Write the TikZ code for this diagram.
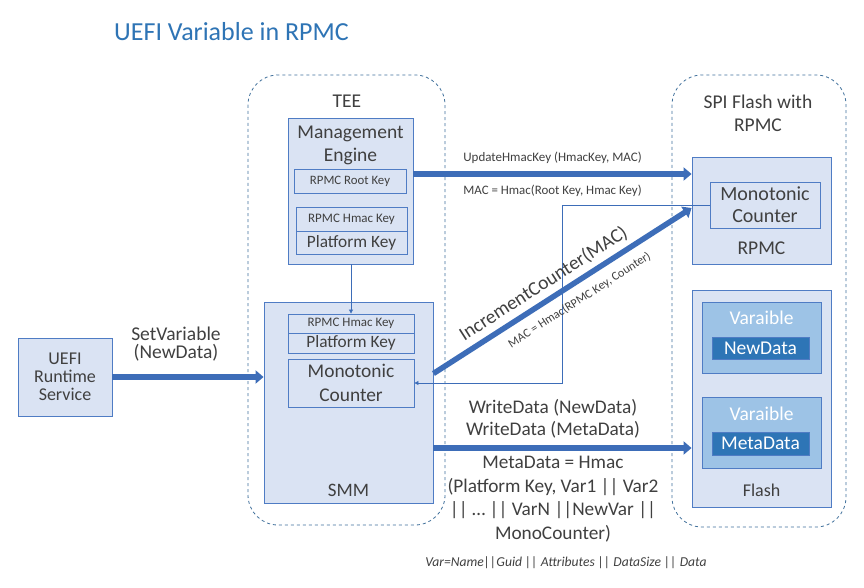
\documentclass[tikz,border=0pt]{standalone}
\usepackage{fontspec}
\setmainfont{Carlito}
\usetikzlibrary{arrows.meta,calc}
\definecolor{boxfill}{HTML}{DAE3F3}
\definecolor{boxline}{HTML}{4F7CC4}
\definecolor{arrowc}{HTML}{3D6DB8}
\definecolor{varfill}{HTML}{9DC3E6}
\definecolor{datafill}{HTML}{2E75B6}
\definecolor{txt}{HTML}{404040}
\definecolor{titlec}{HTML}{2E74B5}
\definecolor{dashc}{HTML}{41719C}
\newcommand{\fsl}[2]{\fontsize{#1}{#2}\selectfont}
\tikzset{
  x=1pt,y=-1pt,
  every node/.style={text=txt,inner sep=0pt},
  box/.style={draw=boxline,fill=boxfill,line width=0.9pt,minimum width=#1},
  databox/.style={draw=boxline,fill=datafill,line width=0.9pt,text=white},
  varbox/.style={draw=boxline,fill=varfill,line width=0.9pt},
  region/.style={draw=dashc,dashed,line width=0.8pt,rounded corners=30pt},
  bigarrow/.style={draw=arrowc,line width=5.5pt,-{Triangle[length=8pt,width=13pt]}},
  thinarrow/.style={draw=arrowc,line width=0.8pt,-{Triangle[length=4pt,width=4pt]}},
  lbl/.style={align=center,text=txt},
}
\begin{document}
\begin{tikzpicture}
\useasboundingbox[fill=white] (0,0) rectangle (864,588);
% title
\node[anchor=west,text=titlec,font={\fsl{26}{30}}] (title) at (114,32) {UEFI Variable in RPMC};
% regions
\draw[region] (248,75) rectangle (445,525);
\draw[region] (672,75) rectangle (846,527);
\node[lbl,font={\fsl{19.5}{23}}] (tee) at (347,101) {TEE};
\node[lbl,font={\fsl{19.5}{23}}] (spi) at (758,113) {SPI Flash with\\RPMC};
% Management engine
\node[box=125pt,minimum height=146pt] (me) at (350.5,191) {};
\node[lbl,font={\fsl{19.5}{23}}] (metxt) at (350.5,145.5) {Management\\Engine};
\node[box=112pt,minimum height=24pt,font={\fsl{12.8}{15}}] (rootkey) at (350,181) {RPMC Root Key};
\node[box=111pt,minimum height=24pt,font={\fsl{13}{15}}] (hmacme) at (351.5,219) {RPMC Hmac Key};
\node[box=111pt,minimum height=23pt,font={\fsl{17.3}{20}}] (pkme) at (351.5,242.5) {Platform Key};
% SMM
\node[box=169pt,minimum height=201pt] (smm) at (348.5,402.5) {};
\node[lbl,font={\fsl{19}{23}}] (smmtxt) at (348.5,490) {SMM};
\node[box=126pt,minimum height=19pt,font={\fsl{13}{15}}] (hmacsmm) at (351,323.5) {RPMC Hmac Key};
\node[box=126pt,minimum height=20pt,font={\fsl{17.3}{20}}] (pksmm) at (351,343) {Platform Key};
\node[box=126pt,minimum height=48pt,align=center,font={\fsl{19.4}{24}}] (mcsmm) at (351,383) {Monotonic\\Counter};
% UEFI runtime
\node[box=94pt,minimum height=78pt,align=center,font={\fsl{18}{17.8}}] (uefi) at (65,377) {UEFI\\Runtime\\Service};
% RPMC
\node[box=139pt,minimum height=107pt] (rpmc) at (761.5,210.5) {};
\node[box=110pt,minimum height=46pt,align=center,font={\fsl{20}{22}}] (mcrpmc) at (765,205) {Monotonic\\Counter};
\node[lbl,font={\fsl{19.5}{23}}] (rpmctxt) at (761.5,248) {RPMC};
% Flash
\node[box=139pt,minimum height=217pt] (flash) at (761.5,398.5) {};
\node[lbl,font={\fsl{18}{22}}] (flashtxt) at (761.5,490) {Flash};
\node[varbox,minimum width=119pt,minimum height=71pt] (var1) at (761.5,337.5) {};
\node[text=white,font={\fsl{19.5}{22}}] (var1txt) at (761.5,318) {Varaible};
\node[databox,minimum width=97pt,minimum height=22pt,font={\fsl{19.5}{22}}] (nd) at (760.5,348) {NewData};
\node[varbox,minimum width=119pt,minimum height=71pt] (var2) at (761.5,432.5) {};
\node[text=white,font={\fsl{19.5}{22}}] (var2txt) at (761.5,414) {Varaible};
\node[databox,minimum width=97pt,minimum height=23pt,font={\fsl{19.5}{22}}] (md) at (760.5,443.5) {MetaData};
% arrows
\draw[thinarrow] (me.south -| hmacsmm.north) -- (hmacsmm.north);
\draw[bigarrow] (uefi.east) -- (uefi.east -| smm.west);
\node[lbl,font={\fsl{19.5}{18.5}}] (setvar) at (176,344) {SetVariable\\(NewData)};
\draw[bigarrow] ([yshift=17pt]me.east) -- ([yshift=17pt]me.east -| rpmc.west)
  node[pos=0.5,above=8pt,font={\fsl{13}{15}}] (upd) {UpdateHmacKey (HmacKey, MAC)}
  node[pos=0.5,below=8pt,font={\fsl{12.9}{15}}] (macroot) {MAC = Hmac(Root Key, Hmac Key)};
\draw[thinarrow] (mcrpmc.west) -- ++(-147,0) coordinate (fbk) |- (mcsmm.east);
\draw[bigarrow] ([yshift=29pt]smm.east) -- ([yshift=2.5pt]rpmc.west)
  node[pos=0.46,sloped,above=5pt,font={\fsl{19.5}{22}}] (inc) {IncrementCounter(MAC)}
  node[pos=0.53,sloped,below=9pt,font={\fsl{12.2}{14}}] (macrpmc) {MAC = Hmac(RPMC Key, Counter)};
\draw[bigarrow] ([yshift=-45.5pt]smm.east) -- ([yshift=-45.5pt]smm.east -| flash.west);
\node[lbl,font={\fsl{19.3}{22.5}}] (wd) at (553,419) {WriteData (NewData)\\WriteData (MetaData)};
\node[lbl,font={\fsl{19.3}{23.5}}] (meta) at (553,499) {MetaData = Hmac\\(Platform Key, Var1 || Var2\\|| … || VarN ||NewVar ||\\MonoCounter)};
\node[lbl,font={\fsl{13.6}{16}\itshape}] (varnote) at (566,563) {Var=Name||Guid || Attributes || DataSize || Data};
\end{tikzpicture}
\end{document}
